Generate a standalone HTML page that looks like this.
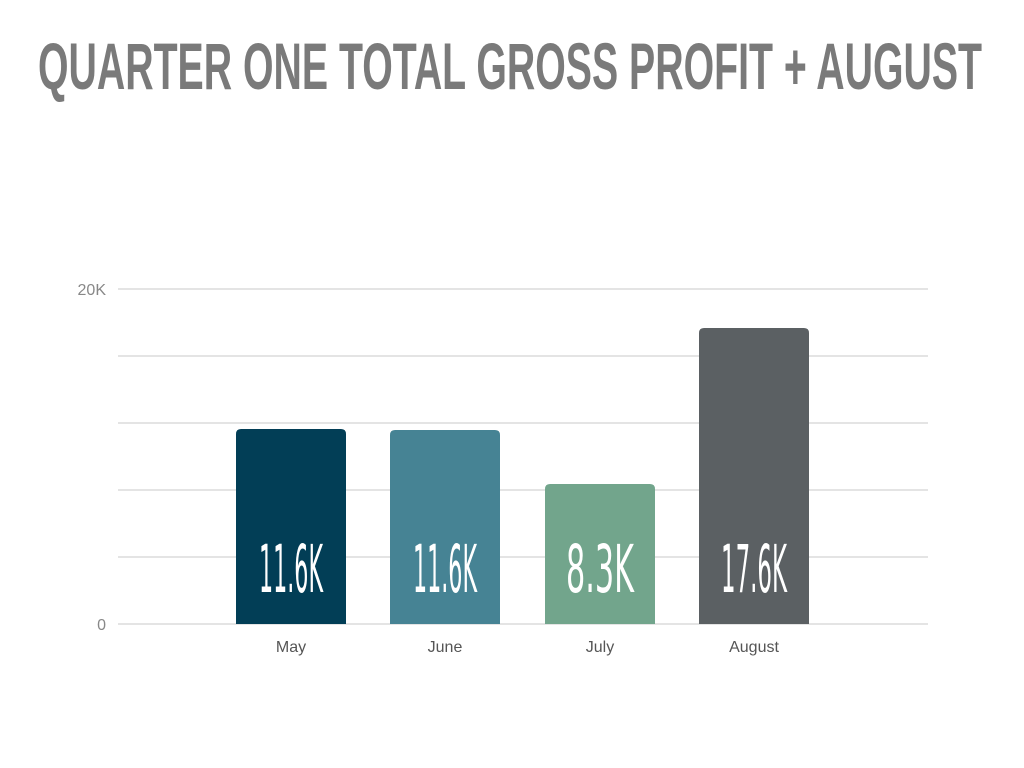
<!DOCTYPE html>
<html><head><meta charset="utf-8"><style>
html,body{margin:0;padding:0;background:#fff;width:1024px;height:768px;overflow:hidden}
</style></head><body>
<svg width="1024" height="768" xmlns="http://www.w3.org/2000/svg" font-family="Liberation Sans, sans-serif">
<text x="38" y="89" font-size="66" font-weight="bold" fill="#7a7a7a" textLength="944" lengthAdjust="spacingAndGlyphs">QUARTER ONE TOTAL GROSS PROFIT + AUGUST</text>
<g stroke="#dcdcdc" stroke-width="1.5">
<line x1="118" y1="289" x2="928" y2="289"/>
<line x1="118" y1="356" x2="928" y2="356"/>
<line x1="118" y1="423" x2="928" y2="423"/>
<line x1="118" y1="490" x2="928" y2="490"/>
<line x1="118" y1="557" x2="928" y2="557"/>
<line x1="118" y1="624" x2="928" y2="624"/>
</g>
<text x="106" y="295" font-size="16" fill="#888" text-anchor="end">20K</text>
<text x="106" y="630" font-size="16" fill="#888" text-anchor="end">0</text>
<path d="M236,624 V434 Q236,429 241,429 H341 Q346,429 346,434 V624 Z" fill="#023e56"/>
<path d="M390,624 V435 Q390,430 395,430 H495 Q500,430 500,435 V624 Z" fill="#468394"/>
<path d="M545,624 V489 Q545,484 550,484 H650 Q655,484 655,489 V624 Z" fill="#72a58c"/>
<path d="M699,624 V333 Q699,328 704,328 H804 Q809,328 809,333 V624 Z" fill="#5b6063"/>
<g fill="#fff" font-size="66" font-family="DejaVu Sans, sans-serif" font-weight="normal">
<text x="259" y="592" textLength="64" lengthAdjust="spacingAndGlyphs">11.6K</text>
<text x="413" y="592" textLength="64" lengthAdjust="spacingAndGlyphs">11.6K</text>
<text x="566" y="592" textLength="68" lengthAdjust="spacingAndGlyphs">8.3K</text>
<text x="721" y="592" textLength="66" lengthAdjust="spacingAndGlyphs">17.6K</text>
</g>
<g fill="#555" font-size="16" text-anchor="middle">
<text x="291" y="652">May</text>
<text x="445" y="652">June</text>
<text x="600" y="652">July</text>
<text x="754" y="652">August</text>
</g>
</svg>
</body></html>
